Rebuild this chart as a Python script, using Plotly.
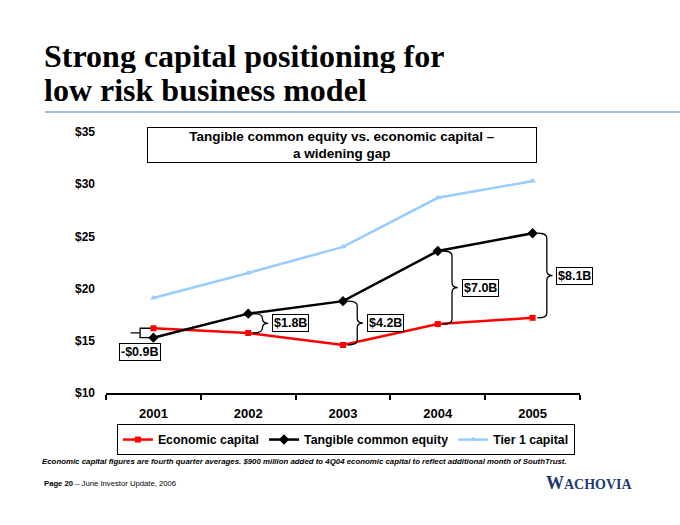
import plotly.graph_objects as go

years = ["2001", "2002", "2003", "2004", "2005"]
economic_capital = [16.2, 15.75, 14.6, 16.6, 17.2]
tangible_equity = [15.3, 17.6, 18.8, 23.6, 25.3]
tier1_capital = [19.1, 21.5, 24.0, 28.7, 30.3]
gap_labels = ["-$0.9B", "$1.8B", "$4.2B", "$7.0B", "$8.1B"]
y_ticks = [10, 15, 20, 25, 30, 35]
y_tick_labels = ["$10", "$15", "$20", "$25", "$30", "$35"]

xs = list(range(len(years)))
FONT = "Liberation Sans, Arial, sans-serif"
SERIF = "Liberation Serif, Times New Roman, serif"

fig = go.Figure()
fig.add_trace(go.Scatter(x=xs, y=economic_capital, name="Economic capital", mode="lines+markers",
                         line=dict(color="#ff0000", width=2.5),
                         marker=dict(symbol="square", size=6, color="#ff0000")))
fig.add_trace(go.Scatter(x=xs, y=tangible_equity, name="Tangible common equity", mode="lines+markers",
                         line=dict(color="#000000", width=2.5),
                         marker=dict(symbol="diamond", size=8, color="#000000")))
fig.add_trace(go.Scatter(x=xs, y=tier1_capital, name="Tier 1 capital", mode="lines+markers",
                         line=dict(color="#99ccff", width=2.5),
                         marker=dict(symbol="triangle-up", size=6, color="#99ccff")))

shapes = []
annotations = []
r = 0.45
for i, (e, t, lab) in enumerate(zip(economic_capital, tangible_equity, gap_labels)):
    top, bot = max(e, t), min(e, t)
    mid = (top + bot) / 2
    if i == 0:
        # left-facing square bracket
        x0, xv, xt = i - 0.03, i - 0.14, i - 0.24
        path = (f"M {x0},{top} L {xv},{top} L {xv},{bot} L {x0},{bot} "
                f"M {xv},{mid} L {xt},{mid}")
        annotations.append(dict(x=xv, y=bot - 0.5, xref="x", yref="y", text=f"<b>{lab}</b>",
                                showarrow=False, xanchor="center", yanchor="top",
                                bordercolor="black", borderwidth=1, borderpad=1, bgcolor="white",
                                font=dict(family=FONT, size=12.5, color="black")))
    else:
        x0, xv, xt = i + 0.05, i + 0.15, i + 0.21
        rr = min(r, (top - bot) / 4)
        path = (f"M {x0},{top} Q {xv},{top} {xv},{top - rr} L {xv},{mid + rr} "
                f"Q {xv},{mid} {xt},{mid} Q {xv},{mid} {xv},{mid - rr} "
                f"L {xv},{bot + rr} Q {xv},{bot} {x0},{bot}")
        annotations.append(dict(x=i + 0.25, y=mid, xref="x", yref="y", text=f"<b>{lab}</b>",
                                showarrow=False, xanchor="left", yanchor="middle",
                                bordercolor="black", borderwidth=1, borderpad=1, bgcolor="white",
                                font=dict(family=FONT, size=12.5, color="black")))
    shapes.append(dict(type="path", path=path, xref="x", yref="y",
                       line=dict(color="black", width=1.3)))

# title underline
shapes.append(dict(type="line", xref="paper", yref="paper", x0=-0.1287, x1=1.22, y0=1.0766, y1=1.0766,
                   line=dict(color="#7ba6d8", width=1.5)))

annotations += [
    dict(xref="paper", yref="paper", x=0.498, y=0.950, xanchor="center", yanchor="middle",
         text="<b>Tangible common equity vs. economic capital –<br>a widening gap</b>",
         showarrow=False, width=386, height=32, bordercolor="black", borderwidth=1, bgcolor="white",
         font=dict(family=FONT, size=13.5, color="black")),
    dict(xref="paper", yref="paper", x=-0.135, y=(393 - 56) / 261, xanchor="left", yanchor="middle",
         text="<b>Strong capital positioning for</b>", align="left", height=34,
         showarrow=False, font=dict(family=SERIF, size=32, color="black")),
    dict(xref="paper", yref="paper", x=-0.135, y=(393 - 90) / 261, xanchor="left", yanchor="middle",
         text="<b>low risk business model</b>", align="left", height=34,
         showarrow=False, font=dict(family=SERIF, size=32, color="black")),
    dict(xref="paper", yref="paper", x=-0.139, y=-0.264, xanchor="left", yanchor="middle",
         text="<b><i>Economic capital figures are fourth quarter averages. $900 million added to 4Q04 economic capital to reflect additional month of SouthTrust.</i></b>",
         showarrow=False, font=dict(family=FONT, size=7.85, color="black")),
    dict(xref="paper", yref="paper", x=-0.135, y=-0.345, xanchor="left", yanchor="middle",
         text="<b>Page 20</b> – June Investor Update, 2006",
         showarrow=False, font=dict(family=FONT, size=7.7, color="black")),
    dict(xref="paper", yref="paper", x=1.116, y=-0.345, xanchor="right", yanchor="middle",
         text="<b><span style='font-size:18px'>W</span>ACHOVIA</b>",
         showarrow=False, font=dict(family=SERIF, size=14, color="#1c3a70")),
]

fig.update_layout(
    width=680, height=525,
    margin=dict(l=106, r=100, t=132, b=132),
    paper_bgcolor="white", plot_bgcolor="white",
    showlegend=True,
    legend=dict(orientation="h", x=0.023, y=-0.119, xanchor="left", yanchor="top",
                bordercolor="black", borderwidth=1, bgcolor="white",
                font=dict(family=FONT, size=12.3, color="black", weight="bold"),
                itemwidth=30, tracegroupgap=0),
    shapes=shapes, annotations=annotations,
    xaxis=dict(range=[-0.5, len(years) - 0.5], tickvals=xs, ticktext=years, ticks="", ticklen=0,
               showline=True, linecolor="black", linewidth=1.5, showgrid=False, zeroline=False,
               tickfont=dict(family=FONT, size=13, color="black", weight="bold"),
               ticklabelstandoff=8,
               minor=dict(ticks="outside", tick0=-0.5, dtick=1, ticklen=5, tickwidth=1.5, tickcolor="black",
                          showgrid=False)),
    yaxis=dict(range=[10, 35], tickvals=y_ticks, ticktext=y_tick_labels, ticks="", showline=False,
               showgrid=False, zeroline=False, ticklabelstandoff=10,
               tickfont=dict(family=FONT, size=12, color="black", weight="bold")),
)

fig.write_html("out.html", config={"displayModeBar": False},
               post_script="document.body.style.margin='0';")
